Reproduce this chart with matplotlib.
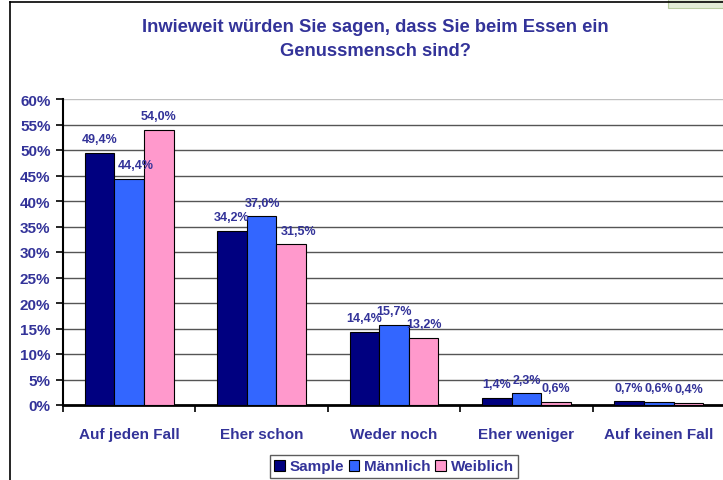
import matplotlib
matplotlib.use("Agg")
import matplotlib.pyplot as plt
import numpy as np
from matplotlib.patches import Rectangle
from matplotlib.ticker import FuncFormatter

categories = ["Auf jeden Fall", "Eher schon", "Weder noch", "Eher weniger", "Auf keinen Fall"]
series_names = ["Sample", "Männlich", "Weiblich"]
sample = [49.4, 34.2, 14.4, 1.4, 0.7]
maennlich = [44.4, 37.0, 15.7, 2.3, 0.6]
weiblich = [54.0, 31.5, 13.2, 0.6, 0.4]
colors = ["#000080", "#3366FF", "#FF99CC"]
txt = "#333399"

plt.rcParams['font.family'] = ['Liberation Sans', 'DejaVu Sans']
plt.rcParams['font.weight'] = 'bold'

W, H = 723, 481
fig = plt.figure(figsize=(W/100, H/100), dpi=100)
fig.patch.set_facecolor("white")

# outer border (cropped chart frame)
fig.add_artist(Rectangle((668/W, 1-9/H), 60/W, 9/H, facecolor="#e2ecd6", edgecolor="#b8cca0", lw=0.8,
                         transform=fig.transFigure))
fig.add_artist(plt.Line2D([10/W, 10/W], [0, 1-3/H], color="black", lw=1.2, transform=fig.transFigure))
fig.add_artist(plt.Line2D([10/W, 1], [1-3/H, 1-3/H], color="black", lw=1.2, transform=fig.transFigure))

ax = fig.add_axes([63/W, (H-406)/H, 662/W, 306/H])
x = np.arange(len(categories))
bw = 0.224
# small horizontal nudges (in points) of overlapping labels, as in the original
nudge = {(1, 0): 5, (2, 1): 5, (1, 1): 1}
for i, (vals, c) in enumerate(zip([sample, maennlich, weiblich], colors)):
    pos = x + (i-1)*bw
    ax.bar(pos, vals, width=bw, color=c, edgecolor="black", linewidth=0.8, label=series_names[i], zorder=3)
    for j, (p, v) in enumerate(zip(pos, vals)):
        ax.annotate(f"{v:.1f}%".replace(".", ","), (p, v), xytext=(nudge.get((i, j), 0), 5.5),
                    textcoords="offset points", ha="center", va="bottom",
                    fontsize=9, fontweight="bold", color=txt, zorder=4)

ax.set_xlim(-0.5, len(categories)-0.5)
ax.set_ylim(0, 60)
ax.set_yticks(np.arange(0, 61, 5))
ax.yaxis.set_major_formatter(FuncFormatter(lambda v, p: f"{int(v)}%"))
for yv in range(5, 60, 5):
    ax.axhline(yv, color="#555555", lw=1, zorder=1)
ax.axhline(60, color="#c0c0c0", lw=1, zorder=1)

ax.set_xticks(x)
ax.set_xticklabels(categories)
ax.set_xticks(np.arange(-0.5, len(categories)), minor=True)
ax.tick_params(axis="x", which="major", length=0, pad=16, labelsize=11, labelcolor=txt)
ax.tick_params(axis="x", which="minor", length=5, width=1.2, direction="out")
ax.tick_params(axis="y", length=5, width=1.2, direction="out", labelsize=11, labelcolor=txt, pad=4)
for lab in ax.get_xticklabels() + ax.get_yticklabels():
    lab.set_fontweight("bold")

for s in ["top", "right"]:
    ax.spines[s].set_visible(False)
ax.spines["left"].set_linewidth(1.5)
ax.spines["bottom"].set_linewidth(2)

fig.text(375/W, 1-28/H, "Inwieweit würden Sie sagen, dass Sie beim Essen ein", ha="center", va="center",
         fontsize=13.2, fontweight="bold", color=txt)
fig.text(375/W, 1-52/H, "Genussmensch sind?", ha="center", va="center",
         fontsize=13.2, fontweight="bold", color=txt)

leg = fig.legend(loc="center", bbox_to_anchor=(394/W, 1-467.5/H), ncol=3, frameon=True, fancybox=False,
                 handlelength=0.7, handleheight=0.7, handletextpad=0.3, columnspacing=0.3,
                 borderpad=0.3, borderaxespad=0, prop={"size": 11, "weight": "bold"})
leg.get_frame().set_edgecolor("#333333")
leg.get_frame().set_linewidth(1)
for t in leg.get_texts():
    t.set_color(txt)

fig.savefig("out.png", dpi=100)
